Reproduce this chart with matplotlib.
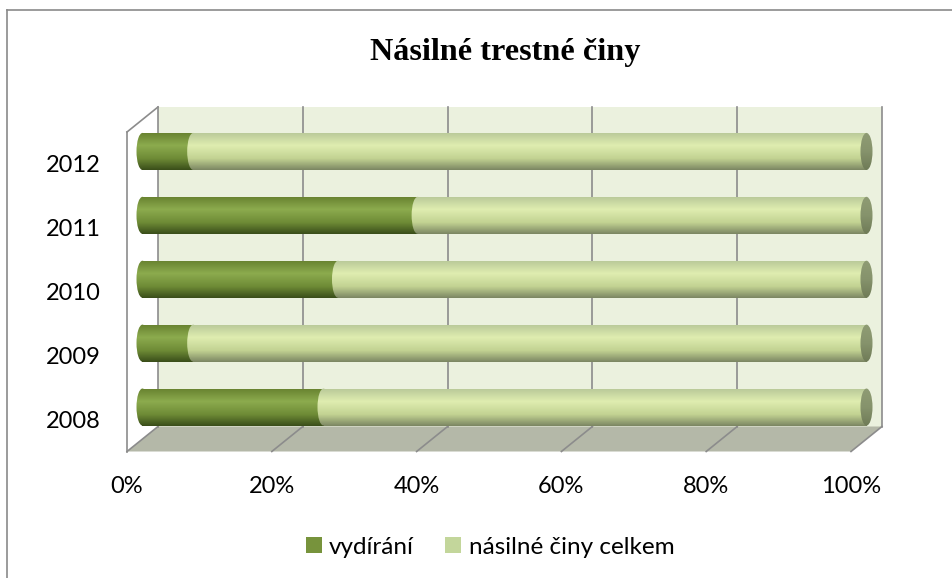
import numpy as np
import matplotlib
matplotlib.use("Agg")
import matplotlib.pyplot as plt
from matplotlib.patches import Rectangle, Polygon, Ellipse, Patch
from matplotlib.lines import Line2D

# data (share of each series in %)
years = ["2008", "2009", "2010", "2011", "2012"]
vydirani = [25, 7, 27, 38, 7]
celkem = [75, 93, 73, 62, 93]
x_ticks = [0, 20, 40, 60, 80, 100]
x_tick_labels = ["0%", "20%", "40%", "60%", "80%", "100%"]
series_names = ["vydírání", "násilné činy celkem"]
title = "Násilné trestné činy"

W, H = 953, 578
fig = plt.figure(figsize=(W / 100, H / 100), dpi=100)

# middle depth plane of the 3D box: 0% at x=142.5 px, 100% at 866.5 px
x0_px, x100_px, ax_t, ax_b = 142.5, 866.5, 119.5, 439.0
scale = (x100_px - x0_px) / 100
pad = 4  # extra x-range so the cylinder caps are not clipped
ax_l = x0_px - pad * scale
ax_r = x100_px + pad * scale
ax = fig.add_axes([ax_l / W, 1 - ax_b / H, (ax_r - ax_l) / W, (ax_b - ax_t) / H])
ax.axis("off")

px_x = 1 / scale
px_y = 5 / (ax_b - ax_t)
DX = 15.5 * px_x  # half depth of the box
DY = 12.5 * px_y
y0, y1 = -0.5, 4.5
grid_c = "#8c8c8c"

# back wall
ax.add_patch(Rectangle((DX, y0 + DY), 100, y1 - y0, fc="#ebf1de", ec="none",
                       zorder=0.5, clip_on=False))
# floor
ax.add_patch(Polygon([(-DX, y0 - DY), (100 - DX, y0 - DY), (100 + DX, y0 + DY), (DX, y0 + DY)],
                     closed=True, fc="#b4b8a8", ec="none", zorder=0.5, clip_on=False))
for t in x_ticks:
    ax.plot([t + DX, t + DX], [y0 + DY, y1 + DY], color=grid_c, lw=1.2, zorder=1, clip_on=False)
    ax.plot([t - DX, t + DX], [y0 - DY, y0 + DY], color=grid_c, lw=1.2, zorder=1, clip_on=False)
# left side wall outline
ax.plot([-DX, -DX], [y0 - DY, y1 - DY], color=grid_c, lw=1.2, zorder=1, clip_on=False)
ax.plot([-DX, DX], [y1 - DY, y1 + DY], color=grid_c, lw=1.2, zorder=1, clip_on=False)


def gradient(stops, n=64):
    pos = [s[0] for s in stops]
    cols = [matplotlib.colors.to_rgb(s[1]) for s in stops]
    t = np.linspace(0, 1, n)
    arr = np.zeros((n, 1, 3))
    for c in range(3):
        arr[:, 0, c] = np.interp(t, pos, [col[c] for col in cols])
    return arr


dark_g = gradient([(0, "#67812f"), (0.35, "#8cab4e"), (0.7, "#6e8b36"), (1, "#3a4e1a")])
light_g = gradient([(0, "#b8c898"), (0.35, "#dfedb0"), (0.7, "#c2d292"), (1, "#7c8763")])
cap_g = gradient([(0, "#8f9c74"), (0.5, "#86936c"), (1, "#6f7b57")])

bar_h = 0.58
cap_w = 12 * px_x
ypos = np.arange(len(years))


def shade(clip, ext, img, z):
    im = ax.imshow(img, extent=ext, aspect="auto", interpolation="bilinear",
                   origin="upper", zorder=z)
    im.set_clip_path(clip)


bars1 = ax.barh(ypos, vydirani, height=bar_h, color="none", zorder=3)
bars2 = ax.barh(ypos, celkem, left=vydirani, height=bar_h, color="none", zorder=4)

for bars, img, z in [(bars1, dark_g, 3), (bars2, light_g, 4)]:
    for p in bars:
        x, y, w, h = p.get_x(), p.get_y(), p.get_width(), p.get_height()
        ext = (x - cap_w, x + w + cap_w, y, y + h)
        shade(p, ext, img, z)
        ell = Ellipse((x, y + h / 2), cap_w, h, transform=ax.transData)
        shade(ell, ext, img, z)
        if bars is bars2:
            end = Ellipse((x + w, y + h / 2), cap_w, h, transform=ax.transData)
            shade(end, ext, cap_g, z + 0.5)

ax.set_xlim(-pad, 100 + pad)
ax.set_ylim(y0, y1)

# tick labels on the front plane
font = "Lato"
for t, lab in zip(x_ticks, x_tick_labels):
    ax.text(t - DX, y0 - 54 * px_y, lab, ha="center", va="baseline",
            fontsize=17, family=font)
for i, lab in zip(ypos, years):
    ax.text(-41.5 * px_x, i - 20.8 * px_y, lab, ha="right", va="baseline",
            fontsize=17, family=font)

fig.text(505.5 / W, 1 - 60 / H, title, ha="center", va="baseline",
         fontsize=23.2, fontweight="bold", family="Liberation Serif")

handles = [Patch(fc="#77933c", ec="none"), Patch(fc="#c3d69b", ec="none")]
fig.legend(handles, series_names, loc="center", bbox_to_anchor=(490 / W, 1 - 547 / H),
           ncol=2, frameon=False, prop={"family": font, "size": 17.5},
           handlelength=0.65, handleheight=0.65, handletextpad=0.3, columnspacing=1.3)

# chart area border (only top and left edges visible)
fig.add_artist(Line2D([7 / W, 7 / W], [0, 1 - 10 / H], transform=fig.transFigure,
                      color="#8a8a8a", lw=1.2))
fig.add_artist(Line2D([7 / W, 1], [1 - 10 / H, 1 - 10 / H], transform=fig.transFigure,
                      color="#8a8a8a", lw=1.2))

fig.savefig("out.png", dpi=100)
